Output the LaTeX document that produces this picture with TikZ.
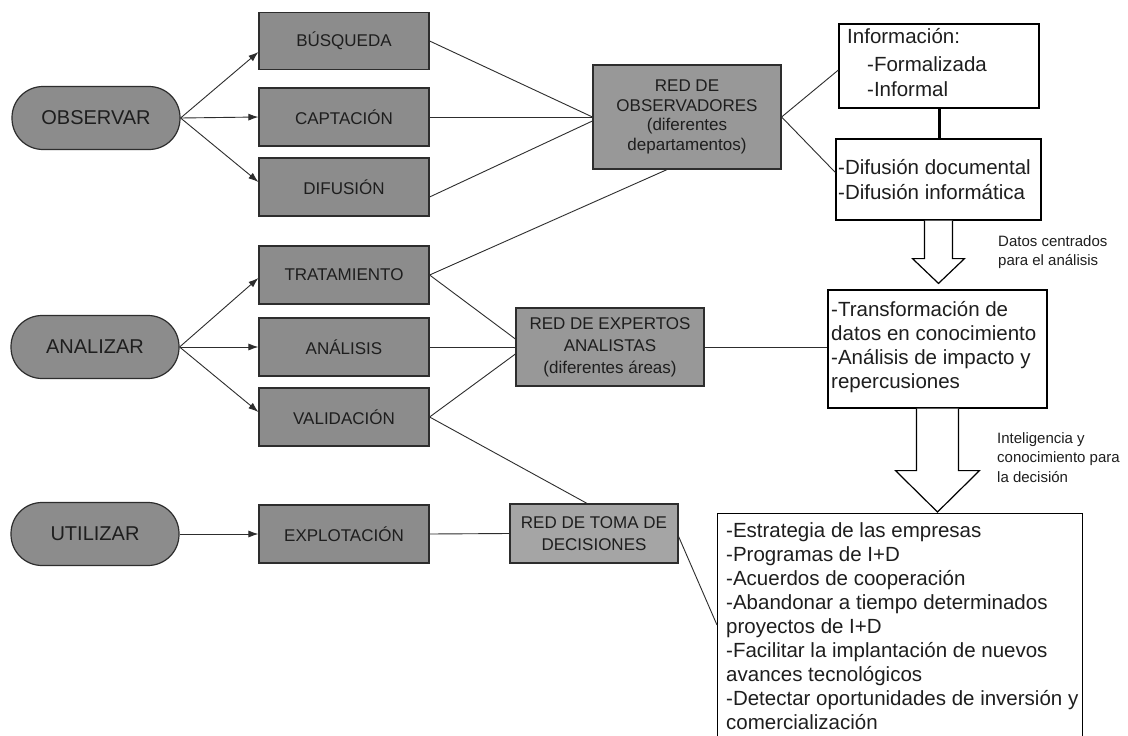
\documentclass[tikz,border=0pt]{standalone}
\usepackage{fontspec}
\setmainfont{Liberation Sans}
\usetikzlibrary{arrows.meta,calc}
\definecolor{boxgray}{RGB}{140,140,140}
\definecolor{redgray}{RGB}{152,152,152}
\definecolor{tomagray}{RGB}{165,165,165}
\definecolor{edge}{RGB}{45,45,45}
\definecolor{txt}{RGB}{30,30,30}
\begin{document}
\begin{tikzpicture}[x=1pt,y=-1pt,
  stad/.style={draw=edge, line width=1.2pt, fill=boxgray, rounded corners=31pt, minimum width=168pt, minimum height=63pt, inner sep=0pt, font=\fontsize{20}{24}\selectfont, text=txt},
  gbox/.style={draw=edge, line width=1.2pt, fill=boxgray, minimum width=170pt, minimum height=58pt, inner sep=0pt, font=\fontsize{17}{20}\selectfont, text=txt, align=center},
  rbox/.style={gbox, fill=redgray},
  wbox/.style={draw=black, line width=1.2pt, fill=white, inner sep=0pt},
  wtext/.style={anchor=north west, inner sep=0pt, align=left, font=\fontsize{20.5}{24.1}\selectfont, text=txt},
  stext/.style={anchor=north west, inner sep=0pt, align=left, font=\fontsize{15}{19.5}\selectfont, text=txt},
  link/.style={draw=edge, line width=0.9pt},
  arr/.style={link, -{Latex[length=10pt,width=7pt]}},
  hollow/.style={draw=black, line width=1.2pt, fill=white, line join=miter},
]
\useasboundingbox (0,0) rectangle (1128,736);
\clip (0,0) rectangle (1128,736);
\fill[white] (0,0) rectangle (1128,736);

% left ovals
\node[stad] (obs) at (96,118) {OBSERVAR};
\node[stad] (ana) at (95,347) {ANALIZAR};
\node[stad] (uti) at (95,534) {UTILIZAR};

% gray boxes
\node[gbox, minimum height=57pt] (bus) at (344,41) {BÚSQUEDA};
\node[gbox] (cap) at (344,117) {CAPTACIÓN};
\node[gbox] (dif) at (344,187) {DIFUSIÓN};
\node[gbox] (tra) at (344,275) {TRATAMIENTO};
\node[gbox] (anl) at (344,347) {ANÁLISIS};
\node[gbox] (val) at (344,417) {VALIDACIÓN};
\node[gbox] (expl) at (344,534) {EXPLOTACIÓN};

% networks
\node[rbox, minimum width=188pt, minimum height=104pt, font=\fontsize{17}{19.5}\selectfont] (robs) at (687,117) {RED DE\\OBSERVADORES\\(diferentes\\departamentos)};
\node[rbox, minimum width=188pt, minimum height=78pt, font=\fontsize{17}{22}\selectfont] (rexp) at (610,347) {RED DE EXPERTOS\\ANALISTAS\\(diferentes áreas)};
\node[rbox, fill=tomagray, minimum width=168pt, minimum height=59pt, font=\fontsize{17}{22}\selectfont] (rtom) at (594,533.5) {RED DE TOMA DE\\DECISIONES};

% white frames
\node[wbox, minimum width=200pt, minimum height=84pt] (info) at (939,66) {};
\node[wbox, minimum width=205pt, minimum height=81pt] (difb) at (938.5,179.5) {};
\node[wbox, minimum width=219pt, minimum height=118pt] (trans) at (937.5,349) {};
\node[wbox, minimum width=365pt, minimum height=250pt, anchor=north west] (dec) at (717,513) {};

% white box texts
\node[wtext, font=\fontsize{20.5}{25}\selectfont] (infot) at (847,28) {Información:\\[3pt]\hspace*{20pt}-Formalizada\\\hspace*{20pt}-Informal};
\node[wtext, font=\fontsize{20.5}{25}\selectfont] (dift) at (838,159) {-Difusión documental\\-Difusión informática};
\node[wtext] (transt) at (831,301) {-Transformación de\\datos en conocimiento\\-Análisis de impacto y\\repercusiones};
\node[wtext] (dect) at (726,522) {-Estrategia de las empresas\\-Programas de I+D\\-Acuerdos de cooperación\\-Abandonar a tiempo determinados\\proyectos de I+D\\-Facilitar la implantación de nuevos\\avances tecnológicos\\-Detectar oportunidades de inversión y\\comercialización};

% small labels
\node[stext] (lab1) at (998,235) {Datos centrados\\para el análisis};
\node[stext] (lab2) at (997,432) {Inteligencia y\\conocimiento para\\la decisión};

% hollow arrows
\draw[hollow] ($(difb.south)+(-14,0)$) -- ++(0,38) -- ++(-12,0) -- ($(difb.south |- trans.north)+(0,-6)$) -- ($(difb.south)+(26,38)$) -- ++(-12,0) -- ($(difb.south)+(14,0)$);
\draw[hollow] ($(trans.south)+(-21,0)$) -- ++(0,62) -- ++(-21,0) -- ($(trans.south |- dec.north)+(0,-1)$) -- ($(trans.south)+(42,62)$) -- ++(-21,0) -- ($(trans.south)+(21,0)$);

% thick link
\draw[line width=3pt] (info.south) -- (info.south |- difb.north);

% arrows from ovals
\draw[arr] (obs.east) -- ($(bus.west)+(0,11)$);
\draw[arr] (obs.east) -- (cap.west);
\draw[arr] (obs.east) -- ($(dif.west)+(0,-5)$);
\draw[arr] (ana.east) -- ($(tra.west)+(0,3)$);
\draw[arr] (ana.east) -- (anl.west);
\draw[arr] (ana.east) -- ($(val.west)+(0,-5)$);
\draw[arr] (uti.east) -- (expl.west);

% links
\draw[link] (bus.east) -- (robs.west);
\draw[link] (cap.east) -- (robs.west);
\draw[link] ($(dif.east)+(0,10)$) -- ($(robs.west)+(0,4)$);
\draw[link] (tra.east) -- ($(robs.south)+(-20,0)$);
\draw[link] (tra.east) -- ($(rexp.west)+(0,-8)$);
\draw[link] (anl.east) -- (rexp.west);
\draw[link] (val.east) -- ($(rexp.west)+(0,7)$);
\draw[link] (val.east) -- ($(rtom.north)+(-7,0)$);
\draw[link] (expl.east) -- (rtom.west);
\draw[link] (rexp.east) -- (rexp.east -| trans.west);
\draw[link] (robs.east) -- ($(info.west)+(0,4)$);
\draw[link] (robs.east) -- ($(difb.west)+(0,-7)$);
\draw[link] ($(rtom.east)+(0,3)$) -- ($(dec.north west)+(0,112)$);
\end{tikzpicture}
\end{document}
